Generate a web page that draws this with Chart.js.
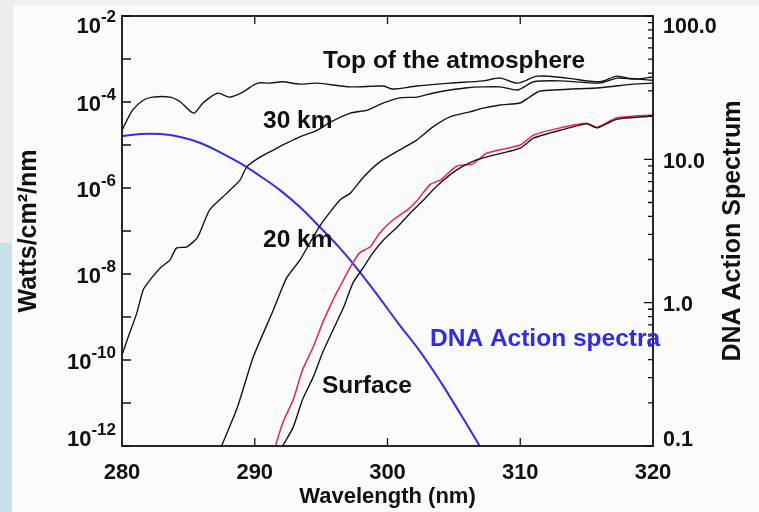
<!DOCTYPE html>
<html lang="en">
<head>
  <meta charset="UTF-8">
  <title>Solar UV irradiance and DNA action spectrum</title>
  <script src="https://cdn.jsdelivr.net/npm/chart.js@4"></script>
  <style>
    html, body { margin: 0; padding: 0; background: #fbfbfb; }
    #wrap { position: relative; width: 759px; height: 512px; overflow: hidden; }
    #edgeTop { position: absolute; left: 0; top: 0; width: 759px; height: 5px; background: #eff1f1; }
    #edgeGray { position: absolute; left: 0; top: 0; width: 13px; height: 243px; background: #eceeee; }
    #edgeBlue { position: absolute; left: 0; top: 243px; width: 12px; height: 269px; background: #c6e2e7; }
    canvas { position: absolute; left: 0; top: 0; }
  </style>
</head>
<body>
  <div id="wrap">
    <div id="edgeTop"></div>
    <div id="edgeGray"></div>
    <div id="edgeBlue"></div>
    <canvas id="chart" width="759" height="512"></canvas>
  </div>

  <script>
    // Irradiance (W/cm2/nm)
    const toaWl = [280.0, 280.8, 281.6, 282.3, 283.6, 284.4, 285.4, 286.1, 287.2, 288.1, 289.1, 290.2, 291.1, 292.1, 293.4, 294.7,
                   297.2, 299.7, 300.4, 302.2, 304.7, 307.2, 308.5, 309.8, 311.3, 313.5, 316.0, 317.3, 318.5, 320.0];
    const toaVal = [2.2e-5, 6.5e-5, 1.1e-4, 1.3e-4, 1.3e-4, 1.0e-4, 5.5e-5, 9.5e-5, 1.6e-4, 1.3e-4, 1.7e-4, 2.75e-4, 2.75e-4, 2.95e-4, 2.6e-4, 2.75e-4,
                    2.25e-4, 2.35e-4, 2.0e-4, 2.35e-4, 2.75e-4, 3.1e-4, 3.6e-4, 2.75e-4, 4.0e-4, 3.6e-4, 2.95e-4, 4.0e-4, 3.4e-4, 3.8e-4];

    const km30Wl = [280.0, 280.4, 281.1, 281.6, 282.1, 282.9, 283.6, 284.1, 284.9, 285.7, 286.6, 287.9, 288.9, 289.4, 290.4, 291.4, 292.4, 293.4,
                    294.7, 295.7, 297.2, 298.5, 299.7, 300.9, 302.2, 303.4, 304.7, 306.0, 307.2, 308.5, 309.8, 311.0, 313.0, 316.0, 317.3, 320.0];
    const km30Val = [1.3e-10, 3.0e-10, 1.2e-9, 4.3e-9, 7.2e-9, 1.4e-8, 2.1e-8, 4.0e-8, 4.3e-8, 7.2e-8, 3.1e-7, 7.6e-7, 1.55e-6, 3.1e-6, 5.2e-6, 7.6e-6, 1.1e-5, 1.55e-5,
                     2.2e-5, 3.4e-5, 5.5e-5, 6.5e-5, 9.5e-5, 1.25e-4, 1.3e-4, 1.6e-4, 1.9e-4, 2.15e-4, 2.25e-4, 2.25e-4, 1.9e-4, 2.95e-4, 3.1e-4, 2.75e-4, 3.6e-4, 3.2e-4];

    const km20Wl = [287.5, 288.7, 289.9, 291.4, 292.4, 293.4, 294.9, 296.4, 297.2, 298.2, 299.4, 300.9, 302.2, 303.4, 304.7, 306.2, 307.2, 308.5,
                    310.0, 310.7, 311.5, 316.0, 318.5, 320.0];
    const km20Val = [1.0e-12, 8.1e-12, 1.2e-10, 1.45e-9, 8.1e-9, 2.1e-8, 1.3e-7, 5.2e-7, 7.6e-7, 1.8e-6, 4.0e-6, 7.6e-6, 1.3e-5, 2.6e-5, 4.5e-5, 5.9e-5, 7.2e-5, 8.5e-5,
                     9.5e-5, 1.3e-4, 1.8e-4, 2.15e-4, 2.6e-4, 2.75e-4];

    const surfRedWl = [291.55, 292.1, 292.9, 293.6, 294.4, 295.1, 295.9, 296.4, 297.2, 297.9, 298.7, 299.4, 300.4, 301.5, 302.2, 303.2, 304.0,
                       305.2, 306.4, 307.5, 310.0, 311.0, 313.0, 315.0, 315.8, 317.3, 320.0];
    const surfRedVal = [1.0e-12, 3.4e-12, 1.2e-11, 5.9e-11, 2.0e-10, 7.2e-10, 2.5e-9, 5.0e-9, 1.45e-8, 3.1e-8, 4.3e-8, 8.9e-8, 1.8e-7, 3.1e-7, 5.0e-7, 1.2e-6, 1.55e-6,
                        3.2e-6, 3.6e-6, 6.5e-6, 1.0e-5, 1.7e-5, 2.5e-5, 3.2e-5, 2.6e-5, 4.3e-5, 5.0e-5];

    const surfWl = [292.1, 292.9, 293.6, 294.4, 295.1, 295.9, 296.7, 297.4, 298.2, 298.9, 299.7, 300.7, 301.7, 302.7, 303.7, 305.2, 306.7, 307.7,
                    310.0, 311.0, 313.0, 315.0, 315.8, 317.3, 320.0];
    const surfVal = [1.0e-12, 2.75e-12, 1.2e-11, 4.0e-11, 1.45e-10, 5.0e-10, 1.7e-9, 6.2e-9, 1.45e-8, 3.1e-8, 6.2e-8, 1.2e-7, 2.6e-7, 5.2e-7, 1.1e-6, 2.6e-6, 4.5e-6, 5.5e-6,
                     8.5e-6, 1.45e-5, 2.2e-5, 3.1e-5, 2.5e-5, 4.0e-5, 4.7e-5];

    // DNA action spectrum (right axis)
    const dnaWl = [280.0, 281.4, 282.9, 284.4, 285.9, 287.4, 288.9, 290.4, 291.9, 293.4, 294.9, 296.4, 297.8, 299.4, 300.9, 302.5, 304.0, 305.5, 307.0];
    const dnaVal = [14.5, 15.0, 15.0, 14.3, 13.0, 11.2, 9.4, 7.65, 6.1, 4.65, 3.37, 2.41, 1.69, 1.08, 0.70, 0.45, 0.28, 0.167, 0.098];

    // Axis ticks
    const xTicks = [280, 290, 300, 310, 320];
    const leftTickExps = [-12, -11, -10, -9, -8, -7, -6, -5, -4, -3, -2];
    const leftLabelExps = [-12, -10, -8, -6, -4, -2];
    const rightTicks = [0.1, 1, 10, 100];
    const rightLabels = ['0.1', '1.0', '10.0', '100.0'];

    const FAMILY = '"Liberation Sans", Arial, Helvetica, sans-serif';
    const bold = size => `bold ${size}px ${FAMILY}`;

    function toPoints(wl, vals) {
      return wl.map((w, i) => ({ x: w, y: vals[i] }));
    }

    // Frame, inward ticks, tick labels, axis titles and curve labels
    const axesPlugin = {
      id: 'axesPlugin',
      afterDraw(chart) {
        const { ctx, chartArea: a, scales } = chart;
        const xs = scales.x, yl = scales.y, yr = scales.y2;
        ctx.save();
        ctx.strokeStyle = '#111';
        ctx.fillStyle = '#111';

        ctx.lineWidth = 1.8;
        ctx.strokeRect(a.left, a.top, a.right - a.left, a.bottom - a.top);

        ctx.lineWidth = 1.3;
        ctx.beginPath();
        xTicks.forEach(v => {
          const px = xs.getPixelForValue(v);
          if (v > xs.min && v < xs.max) {
            ctx.moveTo(px, a.top); ctx.lineTo(px, a.top + 8);
            ctx.moveTo(px, a.bottom); ctx.lineTo(px, a.bottom - 8);
          }
        });
        leftTickExps.forEach(e => {
          const py = yl.getPixelForValue(Math.pow(10, e));
          ctx.moveTo(a.left, py); ctx.lineTo(a.left + 9, py);
        });
        rightTicks.forEach((d, i) => {
          const py = yr.getPixelForValue(d);
          ctx.moveTo(a.right, py); ctx.lineTo(a.right - 9, py);
          if (i < rightTicks.length - 1) {
            for (let m = 2; m <= 9; m++) {
              const pm = yr.getPixelForValue(d * m);
              ctx.moveTo(a.right, pm); ctx.lineTo(a.right - 5, pm);
            }
          }
        });
        ctx.stroke();

        const clampY = py => Math.min(Math.max(py, a.top + 8), a.bottom - 9);

        // x tick labels
        ctx.font = bold(22);
        ctx.textAlign = 'center';
        ctx.textBaseline = 'alphabetic';
        xTicks.forEach(v => ctx.fillText(String(v), xs.getPixelForValue(v), 479));

        // left tick labels: 10 with superscript exponent
        leftLabelExps.forEach(e => {
          const y = clampY(yl.getPixelForValue(Math.pow(10, e)));
          const exp = String(e);
          ctx.font = bold(17);
          const ew = ctx.measureText(exp).width;
          ctx.textAlign = 'right';
          ctx.fillText(exp, 116, y - 2.5);
          ctx.font = bold(22);
          ctx.fillText('10', 116 - ew, y + 8.5);
        });

        // right tick labels
        ctx.font = bold(21.5);
        ctx.textAlign = 'left';
        rightTicks.forEach((d, i) => {
          const y = clampY(yr.getPixelForValue(d));
          ctx.fillText(rightLabels[i], 663, y + 8.5);
        });

        // axis titles
        ctx.font = bold(22);
        ctx.textAlign = 'center';
        ctx.fillText('Wavelength (nm)', (a.left + a.right) / 2, 503);

        ctx.font = bold(25);
        ctx.save();
        ctx.translate(36, (a.top + a.bottom) / 2);
        ctx.rotate(-Math.PI / 2);
        ctx.fillText('Watts/cm²/nm', 0, 0);
        ctx.restore();

        ctx.save();
        ctx.translate(740, (a.top + a.bottom) / 2);
        ctx.rotate(-Math.PI / 2);
        ctx.fillText('DNA Action Spectrum', 0, 0);
        ctx.restore();

        // curve labels
        ctx.font = bold(24.5);
        ctx.textAlign = 'left';
        ctx.fillText('Top of the atmosphere', 323, 68);
        ctx.fillText('30 km', 263, 128);
        ctx.fillText('20 km', 263, 247);
        ctx.fillText('Surface', 322, 393);
        ctx.fillStyle = '#2b2bf2';
        ctx.fillText('DNA Action spectra', 430, 346);

        ctx.restore();
      }
    };

    const ctx = document.getElementById('chart').getContext('2d');
    new Chart(ctx, {
      type: 'line',
      data: {
        datasets: [
          { label: 'Top of the atmosphere', data: toPoints(toaWl, toaVal), borderColor: '#151515', borderWidth: 1.4, yAxisID: 'y', tension: 0.3 },
          { label: '30 km', data: toPoints(km30Wl, km30Val), borderColor: '#151515', borderWidth: 1.4, yAxisID: 'y', tension: 0.2 },
          { label: '20 km', data: toPoints(km20Wl, km20Val), borderColor: '#151515', borderWidth: 1.4, yAxisID: 'y', tension: 0.2 },
          { label: 'Surface', data: toPoints(surfWl, surfVal), borderColor: '#151515', borderWidth: 1.4, yAxisID: 'y', tension: 0.2 },
          { label: 'Surface (alt)', data: toPoints(surfRedWl, surfRedVal), borderColor: '#f2204e', borderWidth: 1.5, yAxisID: 'y', tension: 0.2 },
          { label: 'DNA Action spectra', data: toPoints(dnaWl, dnaVal), borderColor: '#2f2ff0', borderWidth: 2, yAxisID: 'y2', tension: 0.4 }
        ]
      },
      options: {
        responsive: false,
        animation: false,
        layout: { padding: { left: 122, right: 106, top: 16, bottom: 66 } },
        elements: { point: { radius: 0 } },
        plugins: { legend: { display: false }, tooltip: { enabled: false } },
        scales: {
          x: { type: 'linear', min: 280, max: 320, display: false },
          y: { type: 'logarithmic', min: 1e-12, max: 1e-2, display: false },
          y2: { type: 'logarithmic', position: 'right', min: 0.1, max: 100, display: false }
        }
      },
      plugins: [axesPlugin]
    });
  </script>
</body>
</html>
